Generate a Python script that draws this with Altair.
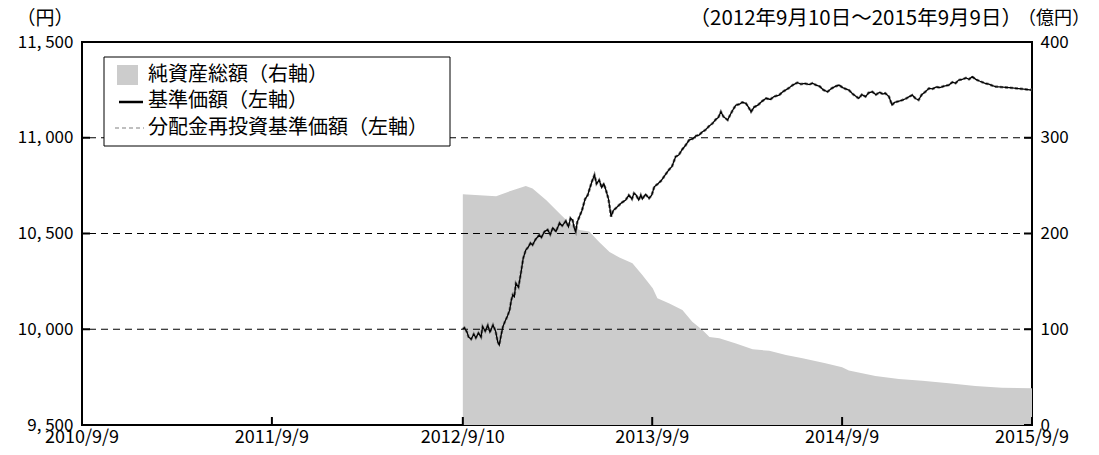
import altair as alt
import pandas as pd

FONT = "Noto Sans CJK JP"

# 基準価額 (left axis, 円)
nav_dates = [
    "2012-09-10", "2012-09-13", "2012-09-18", "2012-09-21", "2012-09-26", "2012-10-01", "2012-10-05",
    "2012-10-10", "2012-10-15", "2012-10-18", "2012-10-23", "2012-10-28", "2012-11-01", "2012-11-07",
    "2012-11-12", "2012-11-16", "2012-11-19", "2012-11-23", "2012-11-26", "2012-11-30", "2012-12-05",
    "2012-12-09", "2012-12-12", "2012-12-15", "2012-12-18", "2012-12-21", "2012-12-26", "2012-12-31",
    "2013-01-04", "2013-01-09", "2013-01-14", "2013-01-18", "2013-01-22", "2013-01-28", "2013-02-04",
    "2013-02-08", "2013-02-14", "2013-02-20", "2013-02-25", "2013-03-02", "2013-03-08", "2013-03-15",
    "2013-03-20", "2013-03-27", "2013-04-01", "2013-04-05", "2013-04-09", "2013-04-12", "2013-04-15",
    "2013-04-18", "2013-04-22", "2013-04-27", "2013-05-03", "2013-05-08", "2013-05-11", "2013-05-16",
    "2013-05-21", "2013-05-25", "2013-05-30", "2013-06-04", "2013-06-08", "2013-06-12", "2013-06-17",
    "2013-06-22", "2013-06-26", "2013-07-01", "2013-07-06", "2013-07-12", "2013-07-20", "2013-07-26",
    "2013-08-01", "2013-08-05", "2013-08-09", "2013-08-14", "2013-08-18", "2013-08-21", "2013-08-27",
    "2013-09-03", "2013-09-08", "2013-09-13", "2013-09-20", "2013-09-26", "2013-09-30", "2013-10-05",
    "2013-10-11", "2013-10-17", "2013-10-24", "2013-10-30", "2013-11-06", "2013-11-12", "2013-11-19",
    "2013-11-26", "2013-12-02", "2013-12-08", "2013-12-14", "2013-12-20", "2013-12-27", "2014-01-03",
    "2014-01-09", "2014-01-14", "2014-01-19", "2014-01-24", "2014-02-01", "2014-02-06", "2014-02-12",
    "2014-02-17", "2014-02-24", "2014-03-01", "2014-03-08", "2014-03-13", "2014-03-18", "2014-03-24",
    "2014-03-31", "2014-04-08", "2014-04-16", "2014-04-24", "2014-05-01", "2014-05-11", "2014-05-18",
    "2014-05-24", "2014-05-31", "2014-06-06", "2014-06-15", "2014-06-22", "2014-06-29", "2014-07-08",
    "2014-07-14", "2014-07-21", "2014-07-28", "2014-08-04", "2014-08-12", "2014-08-20", "2014-08-27",
    "2014-09-03", "2014-09-10", "2014-09-16", "2014-09-22", "2014-09-29", "2014-10-06", "2014-10-11",
    "2014-10-17", "2014-10-24", "2014-10-30", "2014-11-06", "2014-11-13", "2014-11-20", "2014-11-26",
    "2014-12-01", "2014-12-08", "2014-12-14", "2014-12-19", "2014-12-26", "2015-01-03", "2015-01-10",
    "2015-01-16", "2015-01-22", "2015-01-28", "2015-02-03", "2015-02-09", "2015-02-16", "2015-02-23",
    "2015-03-02", "2015-03-09", "2015-03-16", "2015-03-24", "2015-04-02", "2015-04-09", "2015-04-15",
    "2015-04-21", "2015-04-28", "2015-05-05", "2015-05-11", "2015-05-17", "2015-05-24", "2015-06-01",
    "2015-06-11", "2015-06-18", "2015-06-25", "2015-07-01", "2015-07-15", "2015-08-02", "2015-08-20",
    "2015-09-09",
]
nav_values = [
    10000, 10008, 9985, 9960, 9948, 9975, 9955,
    9980, 9960, 10013, 9990, 10020, 9985, 10022,
    9990, 9935, 9918, 9975, 10013, 10040, 10070,
    10100, 10150, 10180, 10170, 10240, 10220, 10300,
    10370, 10414, 10430, 10450, 10440, 10470, 10492,
    10480, 10510, 10520, 10495, 10530, 10510, 10555,
    10540, 10565, 10535, 10580, 10570, 10530, 10510,
    10560, 10588, 10620, 10680, 10700, 10727, 10770,
    10805, 10760, 10779, 10740, 10760, 10727, 10680,
    10588, 10620, 10632, 10645, 10660, 10675, 10700,
    10680, 10710, 10701, 10675, 10700, 10680, 10705,
    10684, 10700, 10744, 10760, 10775, 10790, 10810,
    10832, 10850, 10901, 10910, 10940, 10960, 10988,
    10995, 11010, 11014, 11030, 11040, 11060, 11075,
    11095, 11105, 11136, 11110, 11093, 11120, 11150,
    11171, 11175, 11185, 11180, 11160, 11136, 11160,
    11170, 11190, 11206, 11200, 11215, 11223, 11240,
    11250, 11262, 11275, 11288, 11280, 11284, 11278,
    11285, 11275, 11268, 11250, 11240, 11258, 11268,
    11275, 11262, 11255, 11249, 11230, 11215, 11206,
    11225, 11215, 11235, 11240, 11225, 11238, 11228,
    11232, 11215, 11171, 11185, 11190, 11197, 11205,
    11215, 11223, 11205, 11197, 11225, 11240, 11258,
    11255, 11265, 11262, 11270, 11275, 11290, 11285,
    11301, 11305, 11312, 11305, 11319, 11305, 11295,
    11284, 11280, 11272, 11267, 11264, 11260, 11255,
    11249,
]
# 分配金再投資基準価額 (no distributions: identical to NAV)
reinvest_values = list(nav_values)

# 純資産総額 (right axis, 億円)
asset_dates = [
    "2012-09-10", "2012-10-12", "2012-11-13", "2012-12-12", "2013-01-09", "2013-01-22", "2013-02-17",
    "2013-03-15", "2013-04-03", "2013-04-22", "2013-05-11", "2013-05-30", "2013-06-19", "2013-07-08",
    "2013-08-02", "2013-08-21", "2013-09-10", "2013-09-19", "2013-10-12", "2013-11-06", "2013-11-25",
    "2013-12-15", "2013-12-28", "2014-01-16", "2014-02-17", "2014-03-21", "2014-04-22", "2014-05-24",
    "2014-06-25", "2014-08-08", "2014-09-09", "2014-09-22", "2014-11-12", "2014-12-27", "2015-02-10",
    "2015-04-02", "2015-05-23", "2015-07-13", "2015-09-09",
]
asset_values = [
    241, 240, 239, 244.7, 249.6, 247, 235,
    221, 210.7, 203.6, 202, 191, 180.6, 175,
    168.9, 156.7, 142.8, 132.3, 127, 120, 107.9,
    99, 92, 90.5, 85, 79, 77.5, 73,
    69.7, 64.4, 60.2, 56.8, 51.2, 48, 46.3,
    43.6, 40.7, 39, 38.4,
]

start_date = "2010-09-09"
end_date = "2015-09-09"
tick_dates = ["2010-09-09", "2011-09-09", "2012-09-10", "2013-09-09", "2014-09-09", "2015-09-09"]
tick_labels = ["2010/9/9", "2011/9/9", "2012/9/10", "2013/9/9", "2014/9/9", "2015/9/9"]
left_ticks = [9500, 10000, 10500, 11000, 11500]
grid_values = [10000, 10500, 11000]
right_ticks = [0, 100, 200, 300, 400]

legend_labels = ["純資産総額（右軸）", "基準価額（左軸）", "分配金再投資基準価額（左軸）"]
title_left = "（円）"
title_right = "（億円）"
period_text = "（2012年9月10日～2015年9月9日）"

W, H = 950, 383
PAD_L, PAD_T, PAD_R, PAD_B = 74, 34, 59, 22

base = pd.Timestamp(start_date)


def days(dates):
    return [int((pd.Timestamp(d) - base).days) for d in dates]


nav_df = pd.DataFrame({"date": nav_dates, "day": days(nav_dates), "nav": nav_values, "reinv": reinvest_values})
asset_df = pd.DataFrame({"date": asset_dates, "day": days(asset_dates), "assets": asset_values})
tick_df = pd.DataFrame({"day": days(tick_dates), "label": tick_labels})
lt_df = pd.DataFrame({"v": left_ticks})
grid_df = pd.DataFrame({"v": grid_values})
rt_df = pd.DataFrame({"v": right_ticks})
one = pd.DataFrame({"a": [0]})

xscale = alt.Scale(domain=[0, days([end_date])[0]], nice=False, zero=False)
yleft = alt.Scale(domain=[9500, 11500], nice=False, zero=False)
yright = alt.Scale(domain=[0, 400], nice=False)

left_axis = alt.Axis(
    orient="left", values=left_ticks,
    labelExpr="replace(format(datum.value, ','), ',', ', ')",
    ticks=False, domain=False, grid=False, title=None,
    labelFont=FONT, labelFontSize=17, labelColor="black", labelPadding=9,
)
right_axis = alt.Axis(
    orient="right", values=right_ticks, format="d",
    ticks=False, domain=False, grid=False, title=None,
    labelFont=FONT, labelFontSize=17, labelColor="black", labelPadding=8,
)

area = alt.Chart(asset_df).mark_area(color="#cccccc", opacity=1).encode(
    x=alt.X("day:Q", scale=xscale, axis=None),
    y=alt.Y("assets:Q", scale=yright, axis=right_axis),
)
nav = alt.Chart(nav_df).mark_line(color="black", strokeWidth=1.3).encode(
    x=alt.X("day:Q", scale=xscale, axis=None),
    y=alt.Y("nav:Q", scale=yleft, axis=left_axis),
)
reinv = alt.Chart(nav_df).mark_line(color="#808080", strokeWidth=2.6, strokeDash=[3, 2]).encode(
    x=alt.X("day:Q", scale=xscale, axis=None),
    y=alt.Y("reinv:Q", scale=yleft, axis=None),
)
grid = alt.Chart(grid_df).mark_rule(color="black", strokeWidth=1.2, strokeDash=[7, 5]).encode(
    y=alt.Y("v:Q", scale=yleft, axis=None),
)
left_ticks_layer = alt.Chart(lt_df).mark_rule(color="black", strokeWidth=2).encode(
    y=alt.Y("v:Q", scale=yleft, axis=None),
    x=alt.value(0), x2=alt.value(8),
)
right_ticks_layer = alt.Chart(rt_df).mark_rule(color="black", strokeWidth=2).encode(
    y=alt.Y("v:Q", scale=yright, axis=None),
    x=alt.value(W - 8), x2=alt.value(W),
)
bottom_ticks = alt.Chart(tick_df).mark_rule(color="black", strokeWidth=2).encode(
    x=alt.X("day:Q", scale=xscale, axis=None),
    y=alt.value(H - 8), y2=alt.value(H),
)
# x-axis tick labels (drawn through the x scale)
x_labels = alt.Chart(tick_df).mark_text(
    font=FONT, fontSize=18, baseline="bottom", align="center", color="black"
).encode(
    x=alt.X("day:Q", scale=xscale, axis=None),
    y=alt.value(H + PAD_B),
    text="label:N",
)

# invisible frame fixing the overall chart bounds (so the plot area sits where the reference has it)
bounds = alt.Chart(one).mark_rect(opacity=0).encode(
    x=alt.value(-PAD_L), x2=alt.value(W + PAD_R), y=alt.value(-PAD_T), y2=alt.value(H + PAD_B),
)

# legend box and entries
lg_box = alt.Chart(one).mark_rect(fill="white", stroke="black", strokeWidth=1).encode(
    x=alt.value(22), x2=alt.value(368), y=alt.value(15), y2=alt.value(104),
)
lg_square = alt.Chart(one).mark_rect(fill="#cccccc").encode(
    x=alt.value(35), x2=alt.value(56), y=alt.value(23), y2=alt.value(43),
)
lg_line = alt.Chart(one).mark_rule(color="black", strokeWidth=2.5).encode(
    x=alt.value(37), x2=alt.value(61), y=alt.value(60),
)
lg_dash = alt.Chart(one).mark_rule(color="#808080", strokeWidth=1.2, strokeDash=[4, 3]).encode(
    x=alt.value(33), x2=alt.value(62), y=alt.value(86),
)
lg_texts = [
    alt.Chart(one).mark_text(text=t, font=FONT, fontSize=20, align="left", baseline="middle", color="black").encode(
        x=alt.value(66), y=alt.value(yy)
    )
    for t, yy in zip(legend_labels, [33, 59, 86])
]


def label(txt, xv, yv, align, size):
    return alt.Chart(one).mark_text(text=txt, font=FONT, fontSize=size, align=align,
                                    baseline="middle", color="black").encode(
        x=alt.value(xv), y=alt.value(yv))


titles = [
    label(title_left, -37, -23, "center", 19),
    label(title_right, W + PAD_R - 1, -23, "right", 18),
    label(period_text, 940, -23, "right", 20.5),
]

chart = alt.layer(
    bounds, area, right_ticks_layer, grid, left_ticks_layer, reinv, nav, bottom_ticks, x_labels,
    lg_box, lg_square, lg_line, lg_dash, *lg_texts, *titles
).resolve_scale(y="independent").properties(
    width=W, height=H,
    padding=0,
    background="white",
).configure_view(stroke="black", strokeWidth=2)

chart.save("out.html", embed_options={"renderer": "svg", "actions": False})
